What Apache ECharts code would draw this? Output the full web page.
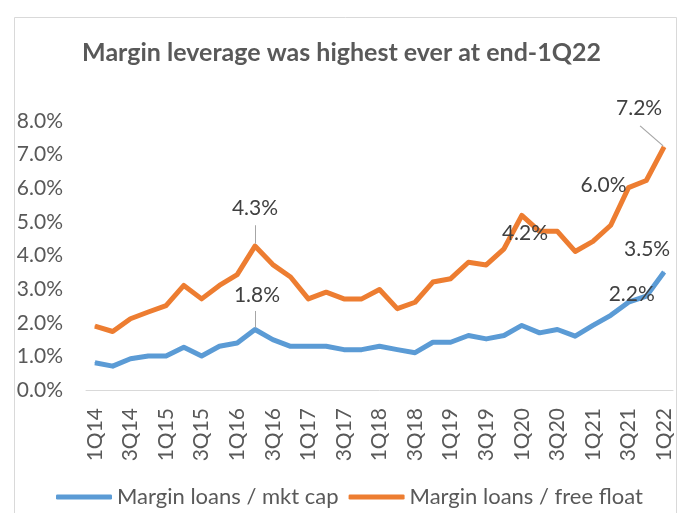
<!DOCTYPE html>
<html>
<head>
<meta charset="utf-8">
<script src="https://cdn.jsdelivr.net/npm/echarts@6/dist/echarts.min.js"></script>
<style>
html,body{margin:0;padding:0;background:#fff;}
#c{width:683px;height:513px;}
</style>
</head>
<body>
<div id="c"></div>
<script>
const categories = ['1Q14','2Q14','3Q14','4Q14','1Q15','2Q15','3Q15','4Q15','1Q16','2Q16','3Q16','4Q16',
  '1Q17','2Q17','3Q17','4Q17','1Q18','2Q18','3Q18','4Q18','1Q19','2Q19','3Q19','4Q19',
  '1Q20','2Q20','3Q20','4Q20','1Q21','2Q21','3Q21','4Q21','1Q22'];
const mktCap = [0.81,0.71,0.93,1.01, 1.01,1.27,1.01,1.30, 1.40,1.80,1.50,1.30,
  1.30,1.30,1.20,1.20, 1.30,1.20,1.11,1.42, 1.42,1.62,1.52,1.62,
  1.92,1.70,1.80,1.60, 1.92,2.22,2.61,2.79, 3.51];
const freeFloat = [1.90,1.74,2.12,2.32, 2.51,3.11,2.71,3.11, 3.43,4.28,3.73,3.36,
  2.71,2.91,2.71,2.71, 2.99,2.42,2.61,3.21, 3.31,3.80,3.72,4.20,
  5.19,4.72,4.72,4.12, 4.42,4.90,6.02,6.23, 7.23];
const yTicks = [0,1,2,3,4,5,6,7,8];
const seriesNames = ['Margin loans / mkt cap','Margin loans / free float'];

// labelled points: index -> [dx, dy] (pixel offset of label centre from the point)
const blueLabels = {9:[2,-34], 29:[21,-21], 32:[-17,-23]};
const orangeLabels = {9:[0,-38], 23:[21,-16], 30:[-25,-2], 32:[-25,-39]};
// diagonal leader line: [series values, index, start offset, end offset] (pixels)
const leaders = [
  [freeFloat, 32, [-1,-1], [-24,-21]]
];
// vertical leader lines above a point: index -> [gap, length] in axis units
const blueStems = {9:[0.05, 0.5]};
const orangeStems = {9:[0.07, 0.55]};

const FONT = 'Lato';
function buildData(vals, labels){
  return vals.map((v,i)=> labels[i] ? {value:v, label:{show:true}} : v);
}
function layoutFn(labels){
  return function(p){
    const l = labels[p.dataIndex];
    if(!l) return {};
    const cx = p.rect.x + p.rect.width/2, cy = p.rect.y + p.rect.height/2;
    return {x: cx + l[0], y: cy + l[1], align:'center', verticalAlign:'middle'};
  };
}
function stems(vals, cfg){
  return {
    silent:true, symbol:['none','none'], animation:false,
    label:{show:false}, lineStyle:{color:'#a6a6a6', width:1, type:'solid'},
    emphasis:{disabled:true},
    data: Object.keys(cfg).map(k => {
      const i = +k, v = vals[i], c = cfg[k];
      return [{coord:[i, v + c[0]]}, {coord:[i, v + c[0] + c[1]]}];
    })
  };
}
const labelStyle = {
  show:false, position:'inside', color:'#404040', fontSize:21, fontFamily:FONT,
  formatter: p => p.value.toFixed(1)+'%'
};
const chart = echarts.init(document.getElementById('c'), null, {renderer:'canvas'});
chart.setOption({
  animation:false,
  backgroundColor:'#fff',
  graphic:[{type:'rect', left:12, top:15, z:-1, shape:{width:662, height:510},
    style:{fill:'none', stroke:'#d9d9d9', lineWidth:1}}],
  title:{text:'Margin leverage was highest ever at end-1Q22', left:'center', top:35,
    textStyle:{color:'#595959', fontSize:25, fontWeight:'bold', fontFamily:FONT}},
  legend:{left:51, top:481, itemWidth:56, itemHeight:5, itemGap:10, icon:'roundRect',
    textStyle:{color:'#595959', fontSize:22, fontFamily:FONT},
    data:seriesNames},
  grid:{left:86, right:10, top:121, bottom:123},
  xAxis:{type:'category', data:categories, boundaryGap:true,
    axisLine:{lineStyle:{color:'#d9d9d9', width:1}}, axisTick:{show:false},
    axisLabel:{rotate:90, interval:1, margin:18, color:'#595959', fontSize:21, fontFamily:FONT}},
  yAxis:{type:'value', min:yTicks[0], max:yTicks[yTicks.length-1], interval:1,
    splitLine:{show:false}, axisLine:{show:false}, axisTick:{show:false},
    axisLabel:{margin:23, color:'#595959', fontSize:21, fontFamily:FONT,
      formatter: v => v.toFixed(1)+'%'}},
  series:[
    {name:seriesNames[0], type:'line', data:buildData(mktCap, blueLabels),
      symbol:'circle', symbolSize:1, showSymbol:true, showAllSymbol:true, color:'#5B9BD5',
      lineStyle:{width:5, color:'#5B9BD5', join:'round'},
      label:labelStyle, labelLayout:layoutFn(blueLabels),
      markLine:stems(mktCap, blueStems)},
    {name:seriesNames[1], type:'line', data:buildData(freeFloat, orangeLabels),
      symbol:'circle', symbolSize:1, showSymbol:true, showAllSymbol:true, color:'#ED7D31',
      lineStyle:{width:5, color:'#ED7D31', join:'round'},
      label:labelStyle, labelLayout:layoutFn(orangeLabels),
      markLine:stems(freeFloat, orangeStems)},
    {name:'leaders', type:'custom', z:5, silent:true, clip:false,
      data: leaders.map(l => [l[1], l[0][l[1]]]),
      encode:{x:0, y:1},
      renderItem:function(params, api){
        const p = api.coord([api.value(0), api.value(1)]);
        const l = leaders[params.dataIndex];
        return {type:'line', z2:10,
          shape:{x1:p[0]+l[2][0], y1:p[1]+l[2][1], x2:p[0]+l[3][0], y2:p[1]+l[3][1]},
          style:{stroke:'#a6a6a6', lineWidth:1.2}};
      }}
  ]
});
</script>
</body>
</html>
